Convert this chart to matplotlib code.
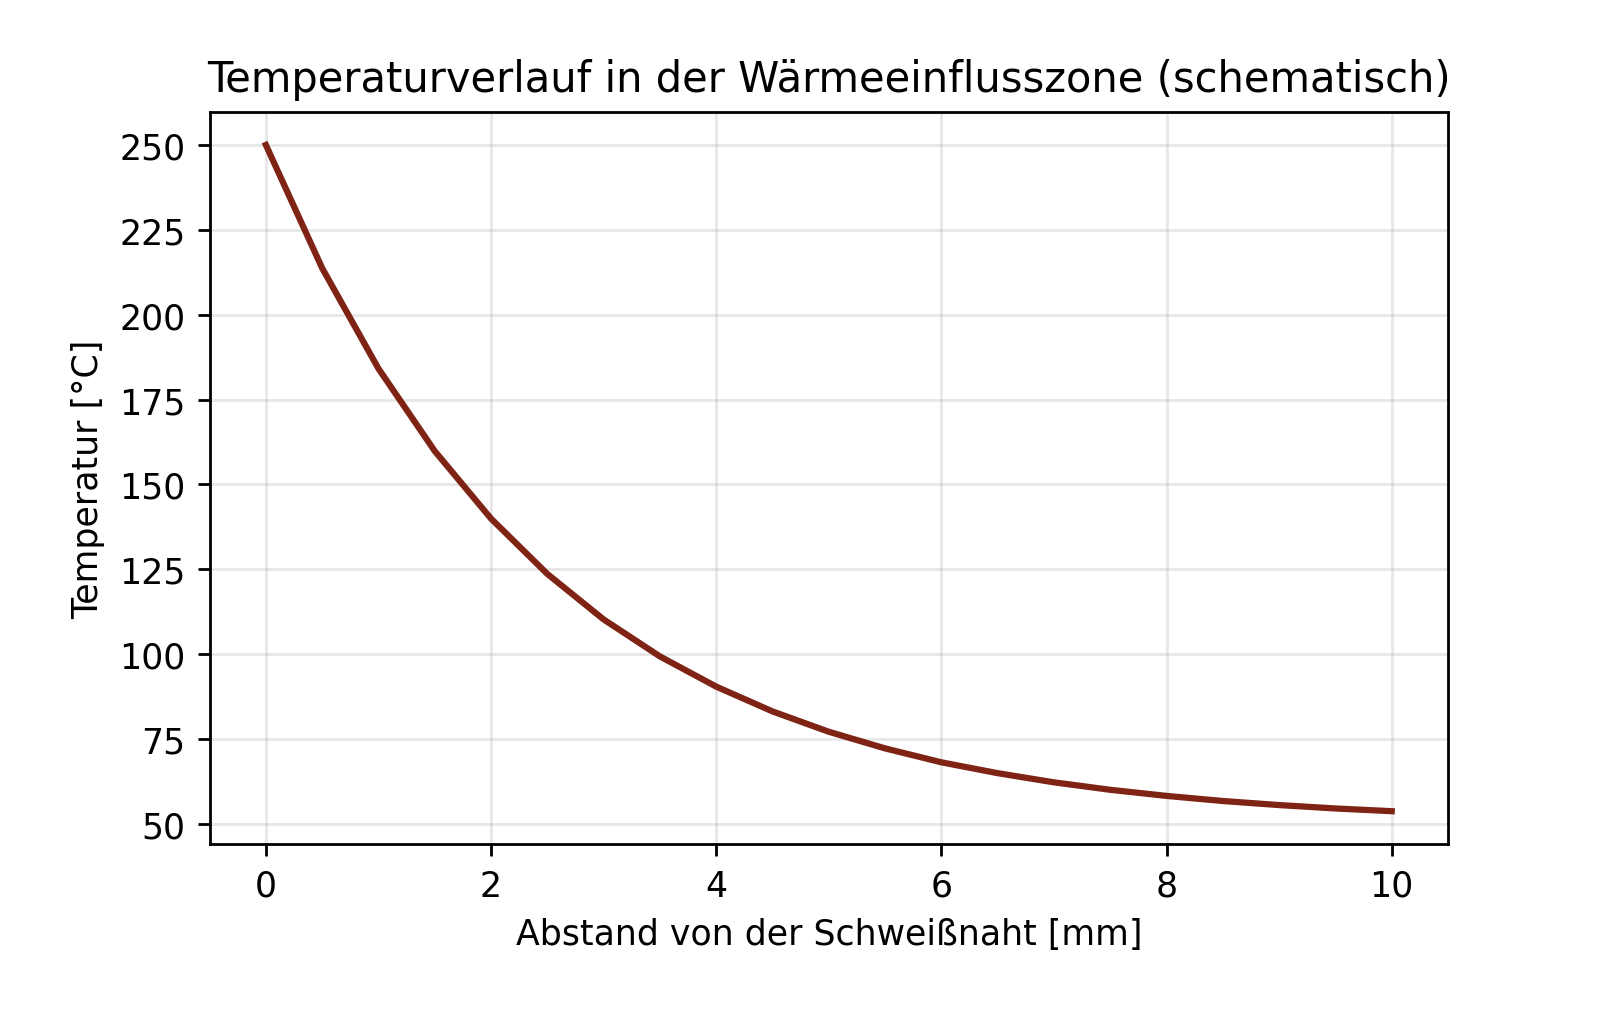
import matplotlib
matplotlib.use("Agg")
import matplotlib.pyplot as plt

distance_mm = [0, 0.5, 1, 1.5, 2, 2.5, 3, 3.5, 4, 4.5, 5, 5.5, 6, 6.5, 7, 7.5, 8, 8.5, 9, 9.5, 10]
temperature_c = [250, 213.7, 184.1, 159.8, 139.9, 123.6, 110.2, 99.3, 90.4, 83.1, 77.1,
                 72.2, 68.1, 64.9, 62.2, 60.0, 58.2, 56.7, 55.5, 54.5, 53.7]

fig = plt.figure(figsize=(6.4, 4.06), dpi=250)
ax = fig.add_axes([0.131, 0.167, 0.774, 0.722])
ax.plot(distance_mm, temperature_c, color="#7f2315", linewidth=1.8)
ax.set_xticks([0, 2, 4, 6, 8, 10])
ax.set_yticks([50, 75, 100, 125, 150, 175, 200, 225, 250])
ax.grid(True, alpha=0.3)
ax.set_title("Temperaturverlauf in der Wärmeeinflusszone (schematisch)")
ax.set_xlabel("Abstand von der Schweißnaht [mm]")
ax.set_ylabel("Temperatur [°C]")
fig.savefig("out.png")
